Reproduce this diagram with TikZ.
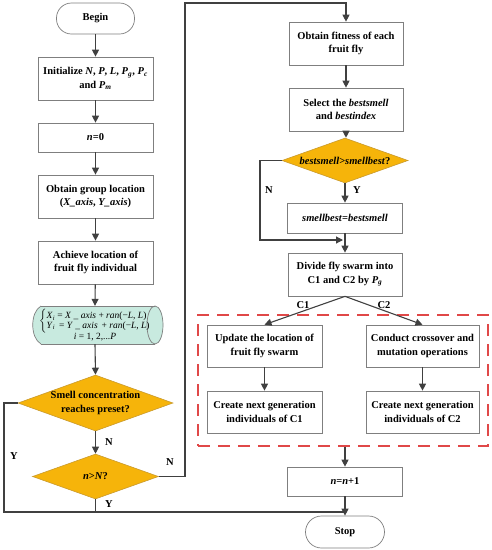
\documentclass[tikz,border=0pt]{standalone}
\usepackage{fontspec}
\setmainfont{Liberation Serif}
\usetikzlibrary{arrows.meta,shapes.geometric}
\definecolor{bordergray}{HTML}{7F7F7F}
\definecolor{arrowgray}{HTML}{404040}
\definecolor{gold}{HTML}{F6B40A}
\definecolor{golddark}{HTML}{C99A2E}
\definecolor{tealfill}{HTML}{C8EADF}
\definecolor{dashred}{HTML}{E04848}
\begin{document}
\begin{tikzpicture}[x=1pt,y=-1pt,
  txt/.style={font=\bfseries\fontsize{10.5}{13.5}\selectfont, align=center},
  box/.style={txt, draw=bordergray, fill=white, line width=0.7pt, inner sep=1pt, minimum width=115pt, minimum height=43pt},
  term/.style={txt, draw=bordergray, fill=white, line width=0.7pt, rounded corners=15pt, minimum width=78pt, minimum height=31pt},
  dia/.style={diamond, draw=golddark, fill=gold, line width=0.6pt, inner sep=0pt},
  arrow/.style={draw=arrowgray, line width=1.1pt, -{Triangle[length=7pt,width=7pt]}},
  line/.style={draw=arrowgray, line width=1.1pt},
  lab/.style={font=\bfseries\fontsize{10.5}{12}\selectfont, inner sep=0pt}
]
\useasboundingbox (0,0) rectangle (492,550);

% ---------- left column ----------
\node[term] (begin) at (95.5,18.5) {Begin};
\node[box] (init) at (95.5,78.5) {Initialize \textit{N}, \textit{P}, \textit{L}, \textit{P}\textsubscript{\textit{g}}, \textit{P}\textsubscript{\textit{c}}\\and \textit{P}\textsubscript{\textit{m}}};
\node[box, minimum height=29pt] (n0) at (95.5,137.5) {\textit{n}=0};
\node[box] (group) at (95.5,196.5) {Obtain group location\\(\textit{X\_axis}, \textit{Y\_axis})};
\node[box] (achieve) at (95.5,262.5) {Achieve location of\\fruit fly individual};

% cylinder-like data shape
\fill[tealfill] (41,306) -- (155,306) .. controls (166,306) and (166,344) .. (155,344) -- (41,344) .. controls (30,338) and (30,312) .. (41,306) -- cycle;
\draw[bordergray, line width=0.7pt] (41,306) -- (155,306);
\draw[bordergray, line width=0.7pt] (41,344) -- (155,344);
\draw[bordergray, line width=0.7pt] (41,306) .. controls (30,312) and (30,338) .. (41,344);
\draw[bordergray, line width=0.7pt] (155,325) ellipse [x radius=8, y radius=19];
\node[minimum width=130pt, minimum height=38pt, inner sep=0pt, align=center, font=\fontsize{9.5}{11}\selectfont] (cyl) at (95,325)
 {$\left\{\begin{tabular}{@{}l@{}}\textit{X}\textsubscript{\textit{i}} = \textit{X} \_ \textit{axis} + \textit{ran}(−\textit{L}, \textit{L})\\[-1.5pt]\textit{Y}\textsubscript{\textit{i}} \,= \textit{Y} \_ \textit{axis} \,+ \textit{ran}(−\textit{L}, \textit{L})\end{tabular}\right.$\\[-1.5pt]\textit{i} = 1, 2,...\textit{P}};

\node[dia, minimum width=155pt, minimum height=56pt] (smell) at (95.5,403) {};
\node[txt] (smelltxt) at (smell.center) {Smell concentration\\reaches preset?};
\node[dia, minimum width=126pt, minimum height=45pt] (nN) at (95.5,476.5) {};
\node[txt] (nNtxt) at (nN.center) {\textit{n}>\textit{N}?};

% ---------- right column ----------
\node[box, minimum width=114pt] (fit) at (346,43.5) {Obtain fitness of each\\fruit fly};
\node[box, minimum width=114pt] (select) at (346,109.5) {Select the \textit{bestsmell}\\and \textit{bestindex}};
\node[dia, minimum width=126pt, minimum height=45pt] (best) at (345,160.5) {};
\node[txt] (besttxt) at (best.center) {\textit{bestsmell}>\textit{smellbest}?};
\node[box, minimum height=30pt] (sb) at (345,218) {\textit{smellbest}=\textit{bestsmell}};
\node[box, minimum width=114pt] (divide) at (345,274.5) {Divide fly swarm into\\C1 and C2 by \textit{P}\textsubscript{\textit{g}}};

\node[draw=dashred, dash pattern=on 12pt off 8pt, line width=1.2pt, minimum width=290pt, minimum height=131pt, inner sep=0pt] (dash) at (343,380.5) {};
\node[box, minimum height=42pt] (update) at (264.5,346) {Update the location of\\fruit fly swarm};
\node[box, minimum width=113pt, minimum height=42pt] (conduct) at (422.5,346) {Conduct crossover and\\mutation operations};
\node[box, minimum height=42pt] (c1) at (264.5,412) {Create next generation\\individuals of C1};
\node[box, minimum width=113pt, minimum height=42pt] (c2) at (422.5,412) {Create next generation\\individuals of C2};

\node[box, minimum height=29pt] (nn1) at (345,481.5) {\textit{n}=\textit{n}+1};
\node[term, minimum width=79pt, minimum height=32pt, rounded corners=16pt] (stop) at (345,532) {Stop};

% ---------- coordinates ----------
\coordinate (yl) at (4,512);
\coordinate (j) at (345,512);
\coordinate (top) at (185,3);
\coordinate (nl) at (260,240);
\coordinate (nm) at (343,240);

% ---------- connectors ----------
\draw[arrow] (begin) -- (init);
\draw[arrow] (init) -- (n0);
\draw[arrow] (n0) -- (group);
\draw[arrow] (group) -- (achieve);
\draw[arrow] (achieve) -- (cyl.north);
\draw[arrow] (cyl.south) -- (smell.north);
\draw[arrow] (smell.south) -- (nN.north);
\draw[line] (smell.west) -| (yl) -- (j);
\draw[line] (nN.south) -- (nN.south |- j);
\draw[arrow] (nN.east) -| (top) -| (fit.north);

\draw[arrow] (fit) -- (select);
\draw[arrow] (select.south) -- (select.south |- best.north);
\draw[arrow] (best.south) -- (sb.north);
\draw[arrow] (best.west) -| (nl) -- (nm);
\draw[arrow] (sb) -- (divide);
\draw[arrow] (divide.south) -- (update.north);
\draw[arrow] (divide.south) -- (conduct.north);
\draw[arrow] (update) -- (c1);
\draw[arrow] (conduct) -- (c2);
\draw[arrow] (dash.south -| nn1.north) -- (nn1.north);
\draw[arrow] (nn1) -- (stop);

% ---------- labels ----------
\node[lab] (lN1) at (109,442) {N};
\node[lab] (lY1) at (14,456) {Y};
\node[lab] (lY2) at (109,504) {Y};
\node[lab] (lN2) at (170,462) {N};
\node[lab] (lY3) at (357,190) {Y};
\node[lab] (lN3) at (269,190) {N};
\node[lab] (lC1) at (303,305) {C1};
\node[lab] (lC2) at (384,305) {C2};
\end{tikzpicture}
\end{document}
